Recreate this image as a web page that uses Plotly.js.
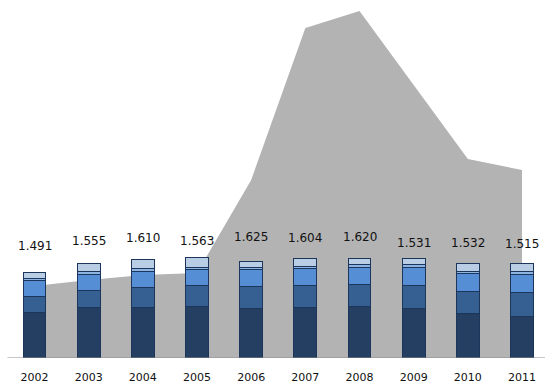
<!DOCTYPE html>
<html>
<head>
<meta charset="utf-8">
<script src="https://cdn.plot.ly/plotly-3.0.1.min.js"></script>
<style>html,body{margin:0;padding:0;background:#fff;}#chart{width:545px;height:387px;}</style>
</head>
<body>
<div id="chart"></div>
<script>
var years = ["2002","2003","2004","2005","2006","2007","2008","2009","2010","2011"];
var areaValues = [1080, 1170, 1245, 1275, 2670, 4950, 5205, 4095, 2985, 2820];
var seg1 = [690, 765, 765, 780, 750, 765, 780, 750, 675, 630];
var seg2 = [240, 255, 300, 315, 330, 330, 330, 345, 330, 360];
var seg3 = [240, 240, 240, 240, 255, 255, 255, 270, 270, 270];
var seg4 = [30, 45, 45, 30, 30, 30, 45, 45, 30, 45];
var seg5 = [90, 120, 135, 150, 90, 120, 90, 90, 120, 120];
var totals = [1491, 1555, 1610, 1563, 1625, 1604, 1620, 1531, 1532, 1515];

function fmt(v){ var s = String(v); return s.slice(0, s.length-3) + "." + s.slice(-3); }

var outline = {color: "#1c355a", width: 1};
var barW = 0.42;
function barTrace(vals, color){
  return {type: "bar", x: years, y: vals, width: barW, xaxis: "x2", yaxis: "y2",
    marker: {color: color, line: outline}, hoverinfo: "skip", showlegend: false};
}

var data = [
  {type: "scatter", x: years, y: areaValues, mode: "none", fill: "tozeroy",
   fillcolor: "#b3b3b3", line: {width: 0}, hoverinfo: "skip", showlegend: false},
  barTrace(seg1, "#253f62"),
  barTrace(seg2, "#376092"),
  barTrace(seg3, "#558ed5"),
  barTrace(seg4, "#8eb4e3"),
  barTrace(seg5, "#b9cde5")
];

var annotations = years.map(function(y, i){
  return {xref: "x", yref: "y", x: i, y: totals[i], text: fmt(totals[i]),
    showarrow: false, yanchor: "bottom", xanchor: "center", yshift: 4,
    font: {family: "DejaVu Sans", size: 12, color: "#111"}};
});

var xr = [-0.637, 9.424], yr = [0, 5295];
var layout = {
  width: 545, height: 387,
  margin: {l: 0, r: 0, t: 5, b: 29},
  paper_bgcolor: "#fff", plot_bgcolor: "#fff",
  barmode: "stack",
  showlegend: false,
  annotations: annotations,
  xaxis: {type: "category", range: xr, showgrid: false, zeroline: false,
          showline: false, ticks: "", ticklabelstandoff: 11,
          tickfont: {family: "DejaVu Sans", size: 11, color: "#111"}},
  yaxis: {range: yr, showgrid: false, zeroline: false, showline: false,
          showticklabels: false, ticks: ""},
  xaxis2: {type: "category", range: xr, overlaying: "x", showgrid: false, zeroline: false,
           showline: false, showticklabels: false, ticks: ""},
  yaxis2: {range: yr, overlaying: "y", showgrid: false, zeroline: false, showline: false,
           showticklabels: false, ticks: ""},
  shapes: [{type: "line", xref: "x", yref: "y", x0: -0.5, x1: 9.6, y0: 0, y1: 0,
            line: {color: "#8c8c8c", width: 1}}]
};

Plotly.newPlot("chart", data, layout, {displayModeBar: false, staticPlot: true});
</script>
</body>
</html>
